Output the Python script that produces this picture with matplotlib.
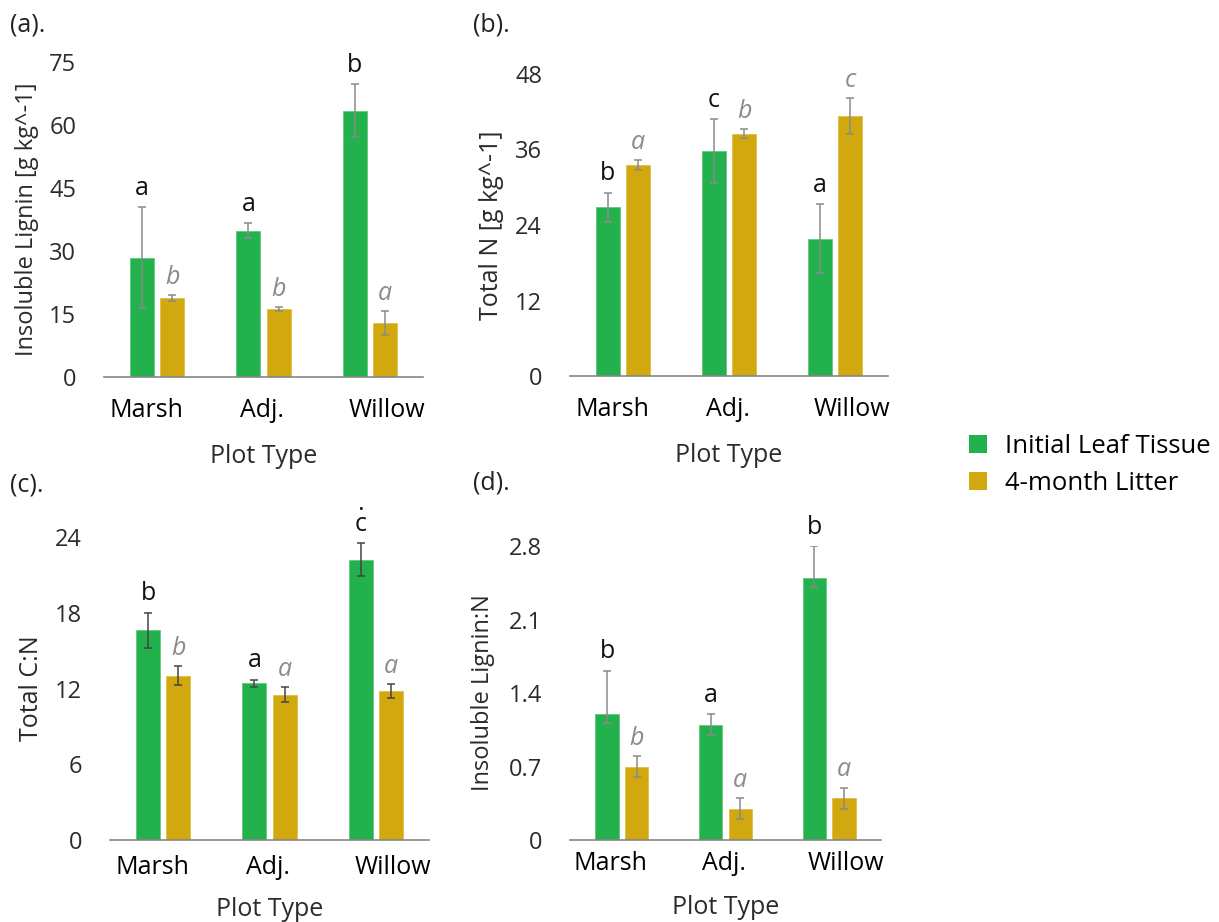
import numpy as np
import matplotlib
matplotlib.use('Agg')
import matplotlib.pyplot as plt
from matplotlib.patches import Patch
from matplotlib.transforms import ScaledTranslation

plt.rcParams['font.family'] = ['Open Sans', 'DejaVu Sans']

# Data
sites = ['Marsh', 'Adj.', 'Willow']
series_names = ['Initial Leaf Tissue', '4-month Litter']

lignin_leaf = [28.4, 34.8, 63.4]
lignin_leaf_err = [12.0, 1.8, 6.3]
lignin_litter = [18.9, 16.2, 12.9]
lignin_litter_err = [0.7, 0.5, 2.8]
lignin_leaf_letters = ['a', 'a', 'b']
lignin_litter_letters = ['b', 'b', 'a']

n_leaf = [26.8, 35.7, 21.8]
n_leaf_err = [2.3, 5.1, 5.5]
n_litter = [33.5, 38.5, 41.3]
n_litter_err = [0.8, 0.7, 2.9]
n_leaf_letters = ['b', 'c', 'a']
n_litter_letters = ['a', 'b', 'c']

cn_leaf = [16.6, 12.4, 22.2]
cn_leaf_err = [1.4, 0.3, 1.3]
cn_litter = [13.0, 11.5, 11.8]
cn_litter_err = [0.75, 0.6, 0.55]
cn_leaf_letters = ['b', 'a', '.\nc']
cn_litter_letters = ['b', 'a', 'a']

ln_leaf = [1.2, 1.1, 2.5]
ln_leaf_err = [[0.09, 0.1, 0.09], [0.41, 0.1, 0.3]]
ln_litter = [0.7, 0.3, 0.4]
ln_litter_err = [0.1, 0.1, 0.1]
ln_leaf_letters = ['b', 'a', 'b']
ln_litter_letters = ['b', 'a', 'a']

green = '#22b14c'
gold = '#d1a80e'

W, H = 1219, 922
fig = plt.figure(figsize=(W / 100, H / 100), dpi=100)


def px_axes(left, right, bottom, top):
    return fig.add_axes([left / W, 1 - bottom / H, (right - left) / W, (bottom - top) / H])


def panel(ax, leaf, leaf_err, litter, litter_err, leaf_let, litter_let,
          ymax, step, ylabel, ylabel_size, tag, ecolor, tick_pad, ylab_off, xlab_off):
    x = np.arange(len(sites))
    w, off = 0.225, 0.142
    ekw = dict(ecolor=ecolor, elinewidth=1.1, capsize=3, capthick=1.1)
    ax.bar(x - off, leaf, w, yerr=leaf_err, color=green, edgecolor='#5fca7c',
           linewidth=0.6, error_kw=ekw, zorder=2)
    ax.bar(x + off, litter, w, yerr=litter_err, color=gold, edgecolor='#dfbd4c',
           linewidth=0.6, error_kw=ekw, zorder=2)

    le = np.asarray(leaf_err)
    up_leaf = le[1] if le.ndim == 2 else le
    for i in range(len(sites)):
        ax.annotate(leaf_let[i], (x[i] - off, leaf[i] + up_leaf[i]),
                    xytext=(0, 9), textcoords='offset points', ha='center',
                    va='baseline', fontsize=18, color='#111111',
                    linespacing=0.8, annotation_clip=False)
        ax.annotate(litter_let[i], (x[i] + off, litter[i] + litter_err[i]),
                    xytext=(0, 8), textcoords='offset points', ha='center',
                    va='baseline', fontsize=18, color='#8c8c8c',
                    style='italic', annotation_clip=False)

    ax.set_xlim(-0.5, 2.5)
    ax.set_ylim(0, ymax)
    ticks = np.arange(0, ymax + step / 2, step)
    ax.set_yticks(ticks)
    ax.set_yticklabels([f'{round(v, 1):g}' for v in ticks])
    ax.set_xticks(x)
    ax.set_xticklabels(sites)
    for s in ['top', 'right', 'left']:
        ax.spines[s].set_visible(False)
    ax.spines['bottom'].set_color('#868686')
    ax.spines['bottom'].set_linewidth(1.2)
    ax.tick_params(axis='y', length=0, pad=20, labelsize=17, labelcolor='#2b2b2b')
    ax.tick_params(axis='x', length=0, pad=tick_pad, labelsize=18, labelcolor='#000000')

    # labels sit a bit wider apart than the bars
    for lab, dx in zip(ax.get_xticklabels(), [-11, -1, 17]):
        lab.set_transform(lab.get_transform() + ScaledTranslation(dx / 100, 0, fig.dpi_scale_trans))

    ax.set_xlabel('Plot Type', fontsize=18, color='#2b2b2b')
    ax.xaxis.label.set_va('center')
    bb = ax.get_position()
    ax.xaxis.set_label_coords(0.5, -xlab_off / (bb.height * H))
    ax.set_ylabel(ylabel, fontsize=ylabel_size, color='#2b2b2b')
    ax.yaxis.label.set_va('center')
    ax.yaxis.set_label_coords(-ylab_off / (bb.width * W), 0.5)
    fig.text(tag[1] / W, 1 - tag[2] / H, tag[0], fontsize=18, color='#222222',
             ha='left', va='center')


ax_a = px_axes(104, 423, 377, 62)
panel(ax_a, lignin_leaf, lignin_leaf_err, lignin_litter, lignin_litter_err,
      lignin_leaf_letters, lignin_litter_letters, 75, 15,
      'Insoluble Lignin [g kg^-1]', 17, ('(a).', 10, 25), '#8a8a8a', 15, 77, 79)

ax_b = px_axes(570, 888, 376, 74)
panel(ax_b, n_leaf, n_leaf_err, n_litter, n_litter_err,
      n_leaf_letters, n_litter_letters, 48, 12,
      'Total N [g kg^-1]', 18, ('(b).', 473, 25), '#8a8a8a', 15, 78, 79)

ax_c = px_axes(110, 429, 840, 537)
panel(ax_c, cn_leaf, cn_leaf_err, cn_litter, cn_litter_err,
      cn_leaf_letters, cn_litter_letters, 24, 6,
      'Total C:N', 18, ('(c).', 10, 485), '#444444', 11, 78, 69)

ax_d = px_axes(570, 881, 840, 546)
panel(ax_d, ln_leaf, ln_leaf_err, ln_litter, ln_litter_err,
      ln_leaf_letters, ln_litter_letters, 2.8, 0.7,
      'Insoluble Lignin:N', 17, ('(d).', 473, 483), '#8a8a8a', 8, 87, 67)

handles = [Patch(facecolor=green, edgecolor='none'), Patch(facecolor=gold, edgecolor='none')]
fig.legend(handles, series_names, loc='upper left', bbox_to_anchor=(969 / W, 1 - 434 / H),
           frameon=False, fontsize=18.5, handlelength=0.7, handleheight=0.7,
           handletextpad=0.7, labelspacing=0.45, borderpad=0, borderaxespad=0)

fig.savefig('out.png', dpi=100)
